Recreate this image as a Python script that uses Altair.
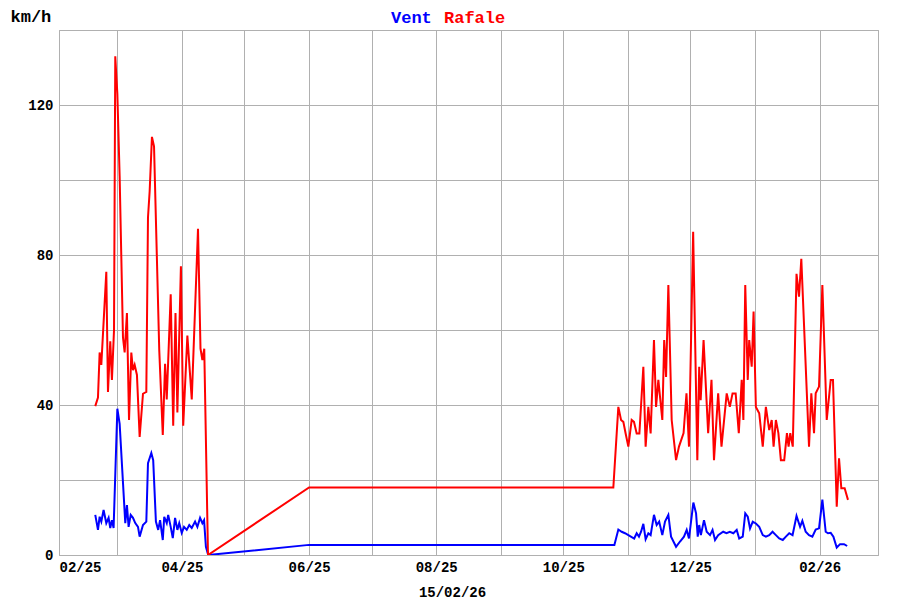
import altair as alt
import pandas as pd

# Days counted from 2025-02-01
START = "2025-02-01"

rafale_days = [17.4, 18.7, 19.5, 20.3, 22.7, 23.5, 24.6, 25.4, 26.4, 27.0, 28.0, 29.1,
               30.7, 31.5, 32.6, 33.6, 34.7, 35.5, 36.3, 37.4, 38.7, 40.3, 41.9, 42.7,
               43.5, 44.6, 45.6, 48.1, 49.8, 50.9, 51.7, 53.6, 54.8, 55.9, 56.8, 58.5,
               59.6, 61.6, 63.7, 66.7, 67.9, 68.8, 69.7, 71.5,
               120.0, 266.0,
               268.4, 269.7, 270.8, 271.9, 273.2, 274.8, 275.9, 277.2, 278.5, 280.4,
               281.5, 282.8, 283.9, 285.5, 286.5, 287.6, 289.5, 290.4, 291.3, 292.4,
               294.0, 296.1, 297.5, 299.7, 301.1, 302.3, 304.3, 306.3, 307.2, 307.9,
               309.3, 311.5, 313.1, 314.3, 316.3, 317.9, 320.4, 321.9, 323.2, 324.7,
               326.2, 327.6, 328.4, 329.3, 330.5, 331.2, 332.4, 333.3, 334.4, 336.0,
               337.7, 339.2, 340.8, 342.0, 342.9, 344.0, 345.2, 346.4, 348.0, 349.3,
               350.1, 350.9, 352.1, 353.9, 355.1, 356.2, 359.9, 361.0, 362.3, 363.1,
               364.7, 366.3, 368.4, 370.3, 371.4, 373.2, 374.3, 375.4, 377.0, 378.6]
rafale_vals = [39.7, 42, 54, 50.7, 75.5, 43.5, 57, 46.7, 60, 133, 123, 101,
               58, 54, 64.5, 36, 54, 49.3, 50.7, 48, 31.5, 43, 43.5, 90,
               97, 111.5, 109, 54.7, 32, 51, 41.5, 69.5, 34.5, 64.5, 38, 77,
               34.5, 58.5, 41.5, 87, 55, 52, 55, 0,
               18, 18,
               39.5, 36, 35.5, 32.4, 28.9, 36, 35.5, 32.4, 32.4, 50.2,
               28.9, 39.5, 32.4, 57.3, 39.5, 46.7, 36, 57.3, 47.5, 72,
               36, 25.3, 28.9, 32.5, 43.1, 28.9, 86.2, 25.3, 50.2, 41.3,
               57.3, 32.5, 46.7, 25.3, 43.1, 28.9, 43.1, 39.5, 43.1, 43.1,
               32.5, 46.7, 36, 72, 46.7, 57.3, 50.2, 64.9, 39.5, 37.8,
               28.9, 39.5, 33.3, 36, 28.9, 36, 32.5, 25.3, 25.3, 32.5,
               28.9, 32.5, 28.9, 75, 68.9, 79, 28.9, 43.1, 32.5, 43.1,
               44.9, 72, 36, 46.7, 46.7, 12.9, 25.8, 17.8, 17.8, 14.7]

vent_days = [17.4, 18.7, 19.5, 20.3, 21.4, 22.7, 23.8, 24.6, 25.4, 26.2, 28.0, 29.1,
             31.8, 32.6, 33.4, 34.4, 35.5, 36.6, 37.9, 38.7, 40.3, 41.9, 42.7, 44.3,
             45.2, 46.5, 47.6, 48.5, 49.8, 50.5, 51.7, 52.4, 53.6, 54.6, 55.7, 56.8,
             57.7, 58.9, 60.0, 61.3, 62.5, 63.7, 65.3, 66.4, 67.7, 68.8, 69.6, 70.5,
             71.6,
             120.0, 266.5,
             268.4, 270.0, 271.6, 273.2, 276.0, 277.2, 278.3, 279.3, 280.4, 281.5,
             282.8, 283.9, 285.5, 286.8, 288.0, 289.5, 290.8, 292.4, 293.7, 296.1,
             298.0, 299.9, 301.2, 302.3, 304.4, 305.7, 306.5, 307.2, 308.0, 309.5,
             310.8, 312.4, 313.6, 314.8, 316.3, 318.7, 320.3, 321.9, 323.6, 325.2,
             326.4, 328.1, 329.3, 330.5, 331.6, 332.9, 334.4, 336.0, 337.7, 339.2,
             340.8, 342.4, 344.0, 345.6, 347.3, 348.8, 350.4, 352.0, 353.9, 355.6,
             356.7, 358.3, 359.9, 361.5, 363.1, 364.7, 366.3, 367.9, 369.0, 370.3,
             371.6, 373.2, 374.8, 376.7, 378.2]
vent_vals = [10.7, 6.7, 10.2, 8.9, 12, 8.5, 9.9, 7.2, 9.3, 7.2, 39, 35,
             8.5, 13.3, 7.5, 10.7, 9.9, 8.5, 7.5, 4.9, 8, 8.9, 24.5, 27.2,
             25.3, 8.9, 6.7, 9.3, 4, 10.2, 8.5, 10.7, 7.5, 4.5, 9.9, 6.7,
             8.5, 5.9, 7.5, 6.7, 8, 7.2, 8.9, 7.5, 9.9, 8.5, 9.3, 2.2,
             0,
             2.7, 2.7,
             6.8, 6.2, 5.8, 5.3, 4.4, 5.8, 4.9, 6.2, 8.3, 4.2,
             5.8, 5.3, 10.7, 8, 8.9, 5.3, 8.9, 10.7, 4.9, 2.2,
             3.6, 4.9, 6.7, 4.4, 14, 11.1, 4.9, 8, 5.3, 9.3,
             6.2, 5.3, 6.7, 4, 5.3, 6.2, 5.8, 6.2, 5.8, 6.7,
             4.4, 4.9, 11.1, 10.2, 7.1, 8.9, 8.4, 7.5, 5.3, 4.9,
             5.3, 6.2, 5.3, 4.4, 4, 4.9, 5.8, 5.3, 10.4, 7.5,
             9.1, 6.2, 5.3, 4.9, 6.8, 7.1, 14.8, 6.2, 5.8, 5.9,
             4.9, 2, 2.9, 2.9, 2.4]

series_names = ["Vent", "Rafale"]
series_colors = ["#0000ff", "#ff0000"]
y_ticks = [0, 20, 40, 60, 80, 100, 120, 140]
date_label = "15/02/26"
unit_label = "km/h"

start = pd.Timestamp(START)
df_r = pd.DataFrame({"date": start + pd.to_timedelta(rafale_days, unit="D"),
                     "kmh": rafale_vals, "serie": "Rafale", "ord": range(len(rafale_days))})
df_v = pd.DataFrame({"date": start + pd.to_timedelta(vent_days, unit="D"),
                     "kmh": vent_vals, "serie": "Vent", "ord": range(len(vent_days))})
df = pd.concat([df_v, df_r], ignore_index=True)

months = pd.date_range("2025-02-01", "2026-03-01", freq="MS")
month_vals = [alt.DateTime(year=int(m.year), month=int(m.month), date=1) for m in months]

FONT = "Liberation Mono"

lines = alt.Chart(df).mark_line(strokeWidth=2, clip=True).encode(
    x=alt.X("date:T",
            scale=alt.Scale(domain=[alt.DateTime(year=2025, month=2, date=1),
                                    alt.DateTime(year=2026, month=3, date=1)]),
            axis=alt.Axis(values=month_vals,
                          labelExpr="month(datum.value) % 2 == 1 ? timeFormat(datum.value, '%m/%y') : ''",
                          title=date_label, titleX=393, titleY=41,
                          titleAnchor="start", titleAlign="center", titleBaseline="alphabetic",
                          ticks=False, domain=False, labelPadding=5)),
    y=alt.Y("kmh:Q", scale=alt.Scale(domain=[0, 140], nice=False),
            axis=alt.Axis(values=y_ticks,
                          labelExpr="datum.value % 40 == 0 ? datum.label : ''",
                          title=unit_label, titleAngle=0, titleX=-49, titleY=-9,
                          titleAlign="left", titleBaseline="alphabetic",
                          titleFontSize=17, titleFontWeight="bold",
                          ticks=False, domain=False, labelPadding=6)),
    color=alt.Color("serie:N", scale=alt.Scale(domain=series_names, range=series_colors),
                    legend=None),
    order="ord:Q",
    detail="serie:N",
)

leg_v = alt.Chart(pd.DataFrame({"t": [series_names[0]]})).mark_text(
    align="left", baseline="alphabetic", font=FONT, fontSize=17, fontWeight="bold",
    color=series_colors[0]).encode(text="t:N", x=alt.value(332), y=alt.value(-7))
leg_r = alt.Chart(pd.DataFrame({"t": [series_names[1]]})).mark_text(
    align="left", baseline="alphabetic", font=FONT, fontSize=17, fontWeight="bold",
    color=series_colors[1]).encode(text="t:N", x=alt.value(385), y=alt.value(-7))

chart = alt.layer(lines, leg_v, leg_r).properties(
    width=819, height=525,
    padding={"left": 51, "top": 22, "right": 14, "bottom": 48},
    autosize=alt.AutoSizeParams(type="none"),
    background="white",
).configure_view(
    stroke="#a8a8a8", strokeWidth=1
).configure_axis(
    gridColor="#b0b0b0", gridWidth=1, gridOpacity=1,
    labelFont=FONT, labelFontSize=14, labelFontWeight="bold", labelColor="#000000",
    titleFont=FONT, titleFontSize=14, titleFontWeight="bold", titleColor="#000000",
)

chart.save("out.html", embed_options={"renderer": "svg", "actions": False})
